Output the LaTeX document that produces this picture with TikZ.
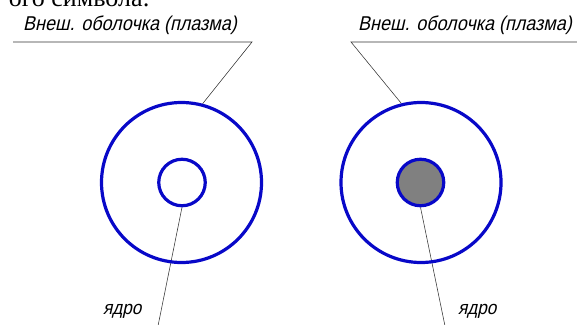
\documentclass[tikz,border=0pt]{standalone}
\usepackage{fontspec}
\setmainfont{Liberation Serif}
\newfontfamily\gost[FakeSlant=0.22,FakeStretch=0.9]{Liberation Sans}
\definecolor{ringblue}{RGB}{8,8,200}
\definecolor{coregray}{RGB}{128,128,128}
\tikzset{
  ghost/.style={circle,inner sep=0pt,outer sep=1.6pt},
  ring/.style={circle,draw=ringblue,line width=3.2pt,inner sep=0pt},
  outerring/.style={ring,minimum size=160pt},
  innerring/.style={ring,minimum size=46.5pt},
  leader/.style={draw=black!80,line width=0.55pt},
  lbl/.style={font=\gost\fontsize{20}{20}\selectfont,inner sep=0pt,anchor=base west},
  corelbl/.style={font=\gost\fontsize{19}{19}\selectfont,inner sep=0pt,anchor=base west}
}
\begin{document}
\begin{tikzpicture}[x=1pt,y=-1pt]
\useasboundingbox (0,0) rectangle (577,324);
\clip (0,0) rectangle (577,324);
% cropped header text
\node[font=\fontsize{26}{28}\selectfont,inner sep=0pt,anchor=base east] (hdr) at (150,6) {ого символа:};
% labels
\node[lbl] (tl) at (23,30) {Внеш. оболочка (плазма)};
\node[lbl] (tr) at (358,30) {Внеш. оболочка (плазма)};
\node[corelbl] (cl) at (103,314) {ядро};
\node[corelbl] (cr) at (458,314) {ядро};
% ghost shapes for leader attachment
\node[ghost,minimum size=160pt] (gOL) at (181.5,182.5) {};
\node[ghost,minimum size=46.5pt] (gIL) at (182,182.5) {};
\node[ghost,minimum size=160pt] (gOR) at (421,182.5) {};
\node[ghost,minimum size=46.5pt] (gIR) at (420.5,182.5) {};
% leader coordinates
\coordinate (l1) at (13,42);
\coordinate (l2) at (252,42);
\coordinate (r1) at (580,42);
\coordinate (r2) at (351,42);
\coordinate (bl) at (158,326);
\coordinate (br) at (445,326);
\draw[leader] (l1) -- (l2) -- (gOL.75.5);
\draw[leader] (r1) -- (r2) -- (gOR.104.6);
\draw[leader] (gIL.south) -- (bl);
\draw[leader] (gIR.south) -- (br);
% circles
\node[outerring] (oL) at (gOL) {};
\node[innerring] (iL) at (gIL) {};
\node[outerring] (oR) at (gOR) {};
\node[innerring,fill=coregray] (iR) at (gIR) {};
\end{tikzpicture}
\end{document}
